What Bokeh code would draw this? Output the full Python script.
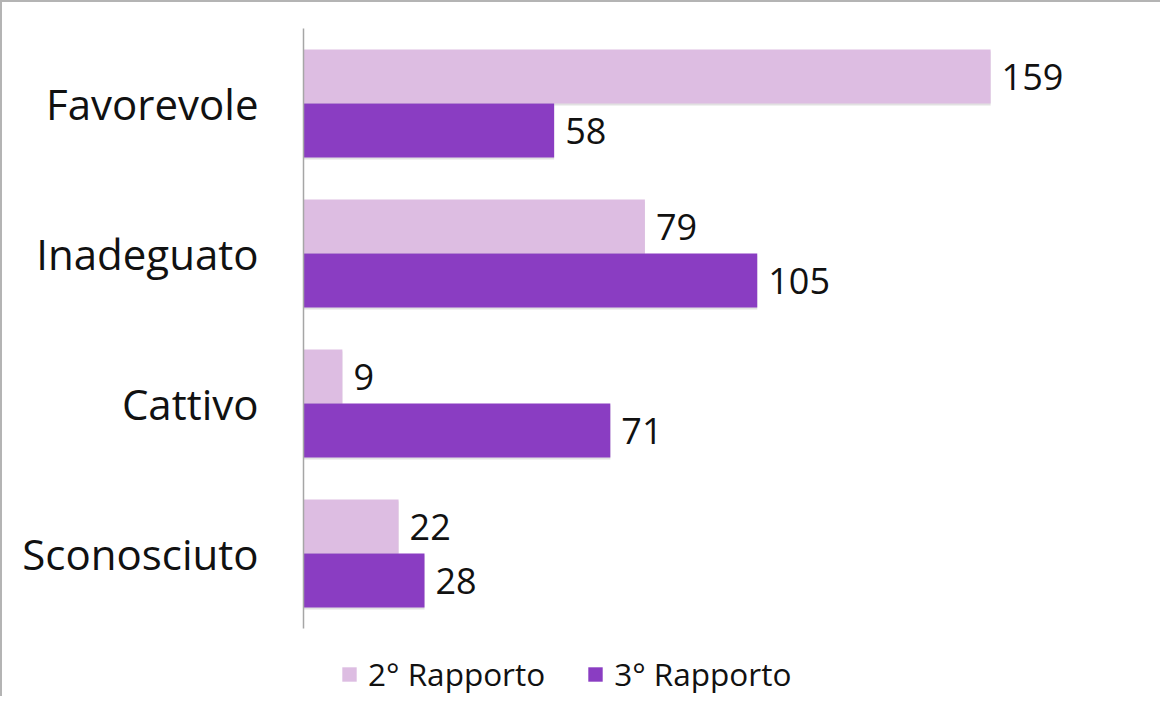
from bokeh.plotting import figure
from bokeh.models import ColumnDataSource, Range1d, Legend, LegendItem, FixedTicker
from bokeh.transform import dodge
from bokeh.core.properties import value
from bokeh.embed import file_html
from bokeh.resources import INLINE

categories = ["Favorevole", "Inadeguato", "Cattivo", "Sconosciuto"]
series_names = ["2° Rapporto", "3° Rapporto"]
rapporto2 = [159, 79, 9, 22]
rapporto3 = [58, 105, 71, 28]
colors = ["#DDBDE2", "#8A3DC2"]

n = len(categories)
positions = [n - 1 - i for i in range(n)]  # top-to-bottom order
source = ColumnDataSource(dict(
    cat=categories,
    pos=positions,
    r2=rapporto2,
    r3=rapporto3,
    l2=[str(v) for v in rapporto2],
    l3=[str(v) for v in rapporto3],
))

# 150 px per category; frame spans from just under the top border to the bottom
top = (n - 0.5) + 26 / 150
bottom = top - 694 / 150

p = figure(
    y_range=Range1d(bottom, top),
    x_range=Range1d(0, 196),
    frame_width=847, frame_height=694,
    min_border_left=301, min_border_right=10,
    min_border_top=0, min_border_bottom=0,
    output_backend="svg", toolbar_location=None,
    background_fill_color="white", border_fill_color="white",
)
p.styles = {"border-left": "2px solid #b4b4b4", "border-top": "2px solid #b4b4b4"}

off = 0.18
h = 0.36
sh = 0.014

# subtle shadows
p.hbar(y=dodge("pos", off - sh), left=0, right="r2", height=h,
       source=source, fill_color="#bdbdbd", fill_alpha=0.45, line_color=None)
p.hbar(y=dodge("pos", -off - sh), left=0, right="r3", height=h,
       source=source, fill_color="#bdbdbd", fill_alpha=0.45, line_color=None)

b2 = p.hbar(y=dodge("pos", off), left=0, right="r2", height=h,
            source=source, fill_color=colors[0], line_color=None)
b3 = p.hbar(y=dodge("pos", -off), left=0, right="r3", height=h,
            source=source, fill_color=colors[1], line_color=None)

for col, lab, o in (("r2", "l2", off), ("r3", "l3", -off)):
    p.text(x=col, y=dodge("pos", o), text=lab, source=source,
           x_offset=11, text_align="left", text_baseline="middle",
           text_font=value("Open Sans"), text_font_size=value("36px"),
           text_color="#111111")

p.xaxis.visible = False
p.xgrid.grid_line_color = None
p.ygrid.grid_line_color = None
p.outline_line_color = None

ya = p.yaxis[0]
ya.ticker = FixedTicker(ticks=positions)
ya.major_label_overrides = {pos: cat for pos, cat in zip(positions, categories)}
ya.bounds = (-0.5, n - 0.5)
ya.axis_line_color = "#a6a6a6"
ya.axis_line_width = 1.5
ya.major_tick_line_color = None
ya.minor_tick_line_color = None
ya.major_label_standoff = 39
ya.major_label_text_font = "Open Sans"
ya.major_label_text_font_size = "42px"
ya.major_label_text_color = "#111111"

legend = Legend(
    items=[LegendItem(label=series_names[0], renderers=[b2]),
           LegendItem(label=series_names[1], renderers=[b3])],
    orientation="horizontal", location=(37, 1),
    glyph_width=18, glyph_height=18, label_standoff=10, spacing=41,
    padding=0, margin=0, border_line_color=None, background_fill_alpha=0,
    label_text_font="Open Sans", label_text_font_size="31.5px",
    label_text_color="#111111",
)
p.add_layout(legend, "center")

open("out.html", "w").write(file_html(p, INLINE))
